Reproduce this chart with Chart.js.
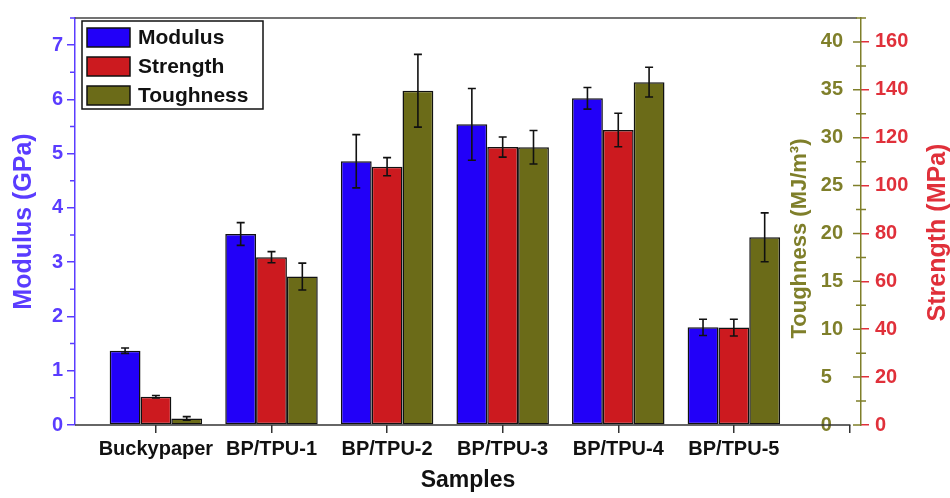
<!DOCTYPE html>
<html>
<head>
<meta charset="utf-8">
<script src="https://cdn.jsdelivr.net/npm/chart.js@4/dist/chart.umd.min.js"></script>
<style>
  body { margin: 0; background: #fff; }
  #wrap { width: 950px; height: 498px; }
</style>
</head>
<body>
<div id="wrap"><canvas id="propChart"></canvas></div>
<script>
// values
var categories = ['Buckypaper', 'BP/TPU-1', 'BP/TPU-2', 'BP/TPU-3', 'BP/TPU-4', 'BP/TPU-5'];
var modulus = [1.37, 3.52, 4.86, 5.54, 6.02, 1.80];
var modulusErr = [0.05, 0.21, 0.49, 0.66, 0.20, 0.15];
var strength = [11.8, 70.1, 107.9, 116.1, 123.2, 40.7];
var strengthErr = [0.5, 2.3, 3.8, 4.2, 7.0, 3.5];
var toughness = [0.69, 15.5, 34.9, 29.0, 35.8, 19.6];
var toughnessErr = [0.18, 1.4, 3.8, 1.75, 1.55, 2.55];

var modulusAxis = { max: 7.5, step: 1 };
var toughnessAxis = { max: 42.5, step: 5 };
var strengthAxis = { max: 170, step: 20 };
var sampleAxis = { min: -0.7, max: 6.1 };

var blue = '#2200f8', red = '#cc1a1f', olive = '#6b6b18';
var axisBlue = '#5a3cff', textOlive = '#7f7f2a', textRed = '#e0303a';
var fontFam = '"Liberation Sans", Arial, sans-serif';

function points(arr) {
    return arr.map(function (v, i) { return { x: i, y: v }; });
}

// error bars on top of each bar
var errorBars = {
    id: 'errorBars',
    afterDatasetsDraw: function (chart) {
        var ctx = chart.ctx;
        ctx.save();
        ctx.strokeStyle = '#111';
        ctx.lineWidth = 1.6;
        chart.data.datasets.forEach(function (ds, d) {
            var meta = chart.getDatasetMeta(d);
            var scale = chart.scales[meta.yAxisID];
            meta.data.forEach(function (bar, i) {
                var v = ds.data[i].y, e = ds.errors[i];
                var yt = scale.getPixelForValue(v + e);
                var yb = scale.getPixelForValue(v - e);
                ctx.beginPath();
                ctx.moveTo(bar.x, yt); ctx.lineTo(bar.x, yb);
                ctx.moveTo(bar.x - 4, yt); ctx.lineTo(bar.x + 4, yt);
                ctx.moveTo(bar.x - 4, yb); ctx.lineTo(bar.x + 4, yb);
                ctx.stroke();
            });
        });
        ctx.restore();
    }
};

// frame, minor ticks, inner toughness ticks, right titles, boxed legend
var decorations = {
    id: 'decorations',
    afterDraw: function (chart) {
        var ctx = chart.ctx, a = chart.chartArea;
        var x = chart.scales.x, y = chart.scales.y, yT = chart.scales.yT, yS = chart.scales.yS;
        ctx.save();

        // top frame and bottom axis line
        ctx.strokeStyle = '#444';
        ctx.lineWidth = 1.5;
        ctx.beginPath();
        ctx.moveTo(a.left, a.top); ctx.lineTo(a.right - 4, a.top);
        ctx.stroke();
        ctx.strokeStyle = '#333';
        ctx.beginPath();
        ctx.moveTo(a.left, a.bottom); ctx.lineTo(x.getPixelForValue(6) + 1, a.bottom);
        ctx.stroke();

        // left minor ticks
        ctx.strokeStyle = axisBlue;
        ctx.beginPath();
        for (var m = 0.5; m <= modulusAxis.max; m += 1) {
            var py = y.getPixelForValue(m);
            ctx.moveTo(a.left - 5, py); ctx.lineTo(a.left, py);
        }
        ctx.stroke();

        // toughness major ticks point inward, minor ticks cross the line
        ctx.strokeStyle = textOlive;
        ctx.beginPath();
        for (var t = 0; t <= 40; t += toughnessAxis.step) {
            var ty = yT.getPixelForValue(t);
            ctx.moveTo(a.right - 8, ty); ctx.lineTo(a.right, ty);
        }
        for (var t2 = 2.5; t2 <= toughnessAxis.max; t2 += toughnessAxis.step) {
            var ty2 = yT.getPixelForValue(t2);
            ctx.moveTo(a.right - 5, ty2); ctx.lineTo(a.right + 5, ty2);
        }
        ctx.stroke();

        // right-hand titles read bottom to top
        var midY = (a.top + a.bottom) / 2;
        ctx.textAlign = 'center';
        ctx.textBaseline = 'middle';
        ctx.save();
        ctx.translate(a.right - 61, midY + 17);
        ctx.rotate(-Math.PI / 2);
        ctx.fillStyle = textOlive;
        ctx.font = 'bold 22px ' + fontFam;
        ctx.fillText('Toughness (MJ/m\u00B3)', 0, 0);
        ctx.restore();
        ctx.save();
        ctx.translate(yS.right - 12, midY + 11);
        ctx.rotate(-Math.PI / 2);
        ctx.fillStyle = textRed;
        ctx.font = 'bold 25px ' + fontFam;
        ctx.fillText('Strength (MPa)', 0, 0);
        ctx.restore();

        // legend box
        var lx = a.left + 7, ly = a.top + 3;
        ctx.strokeStyle = '#111';
        ctx.lineWidth = 1.5;
        ctx.strokeRect(lx, ly, 181, 88);
        ctx.font = 'bold 21px ' + fontFam;
        ctx.textAlign = 'left';
        chart.data.datasets.forEach(function (ds, i) {
            var ry = ly + 7 + i * 29;
            ctx.fillStyle = ds.backgroundColor;
            ctx.fillRect(lx + 5, ry, 43, 19);
            ctx.strokeRect(lx + 5, ry, 43, 19);
            ctx.fillStyle = '#111';
            ctx.fillText(ds.label, lx + 56, ry + 10);
        });
        ctx.restore();
    }
};

var ctx1 = document.getElementById('propChart').getContext('2d');
var propChart = new Chart(ctx1, {
    type: 'bar',
    data: {
        datasets: [{
            label: 'Modulus',
            data: points(modulus),
            errors: modulusErr,
            yAxisID: 'y',
            backgroundColor: blue
        }, {
            label: 'Strength',
            data: points(strength),
            errors: strengthErr,
            yAxisID: 'yS',
            backgroundColor: red
        }, {
            label: 'Toughness',
            data: points(toughness),
            errors: toughnessErr,
            yAxisID: 'yT',
            backgroundColor: olive
        }]
    },
    options: {
        responsive: true,
        maintainAspectRatio: false,
        animation: false,
        layout: { padding: { top: 11, left: 0, right: 0, bottom: 0 } },
        datasets: {
            bar: {
                borderColor: '#111',
                borderWidth: 1.5,
                borderSkipped: false,
                categoryPercentage: 0.8,
                barPercentage: 1
            }
        },
        plugins: {
            legend: { display: false },
            tooltip: { enabled: false }
        },
        scales: {
            x: {
                type: 'linear',
                offset: false,
                min: sampleAxis.min,
                max: sampleAxis.max,
                afterFit: function (s) { s.height = 73; },
                ticks: {
                    stepSize: 1,
                    includeBounds: false,
                    autoSkip: false,
                    maxRotation: 0,
                    padding: 4,
                    color: '#111',
                    font: { family: fontFam, size: 20, weight: 'bold' },
                    callback: function (v) { return categories[v] || ''; }
                },
                grid: { offset: false, drawOnChartArea: false, drawTicks: true, tickLength: 8, color: '#333', lineWidth: 1.5 },
                border: { display: false },
                title: {
                    display: true,
                    text: 'Samples',
                    color: '#111',
                    font: { family: fontFam, size: 23, weight: 'bold', lineHeight: 1 },
                    padding: { top: 4, bottom: 5.5 }
                }
            },
            y: {
                position: 'left',
                min: 0,
                max: modulusAxis.max,
                afterFit: function (s) { s.width = 75; },
                ticks: {
                    stepSize: modulusAxis.step,
                    includeBounds: false,
                    padding: 4,
                    color: axisBlue,
                    font: { family: fontFam, size: 20, weight: 'bold' }
                },
                grid: { drawOnChartArea: false, drawTicks: true, tickLength: 8, color: axisBlue, lineWidth: 1.5 },
                border: { color: axisBlue, width: 1.5 },
                title: {
                    display: true,
                    text: 'Modulus (GPa)',
                    color: axisBlue,
                    font: { family: fontFam, size: 25, weight: 'bold', lineHeight: 1 },
                    padding: { top: 11.5, bottom: 0 }
                }
            },
            yT: {
                position: 'right',
                weight: 0,
                min: 0,
                max: toughnessAxis.max,
                afterFit: function (s) { s.width = 0; },
                ticks: {
                    stepSize: toughnessAxis.step,
                    includeBounds: false,
                    mirror: true,
                    crossAlign: 'far',
                    padding: -18,
                    color: textOlive,
                    font: { family: fontFam, size: 20, weight: 'bold' }
                },
                grid: { drawOnChartArea: false, drawTicks: false },
                border: { color: textOlive, width: 1.5 }
            },
            yS: {
                position: 'right',
                weight: 1,
                min: 0,
                max: strengthAxis.max,
                afterFit: function (s) { s.width = 89; },
                ticks: {
                    stepSize: strengthAxis.step,
                    includeBounds: false,
                    padding: 6,
                    color: textRed,
                    font: { family: fontFam, size: 20, weight: 'bold' }
                },
                grid: { drawOnChartArea: false, drawTicks: true, tickLength: 8, color: textRed, lineWidth: 1.5 },
                border: { display: false }
            }
        }
    },
    plugins: [errorBars, decorations]
});
</script>
</body>
</html>
